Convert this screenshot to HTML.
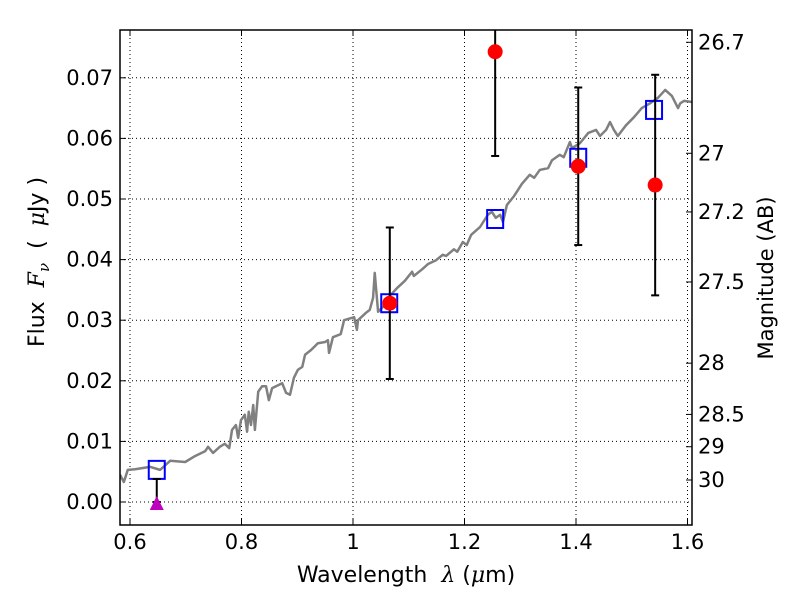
<!DOCTYPE html>
<html><head><meta charset="utf-8"><style>body{margin:0;background:#fff}svg{display:block;font-family:"DejaVu Sans","Liberation Sans",sans-serif}</style></head>
<body>
<svg id="c" width="800" height="600"></svg>
<script>
const specLam=[0.582,0.589,0.596,0.609,0.636,0.654,0.672,0.699,0.717,0.735,0.740,0.749,0.761,0.770,0.778,0.783,0.790,0.794,0.799,0.806,0.810,0.813,0.817,0.821,0.824,0.830,0.837,0.844,0.849,0.855,0.873,0.880,0.887,0.894,0.901,0.909,0.914,0.925,0.937,0.950,0.955,0.957,0.964,0.978,0.984,1.002,1.007,1.009,1.023,1.030,1.036,1.039,1.045,1.057,1.066,1.079,1.093,1.106,1.109,1.124,1.135,1.149,1.161,1.167,1.181,1.187,1.197,1.204,1.212,1.228,1.242,1.249,1.256,1.264,1.269,1.276,1.289,1.303,1.317,1.325,1.335,1.350,1.357,1.371,1.378,1.389,1.393,1.407,1.422,1.436,1.443,1.454,1.461,1.468,1.475,1.490,1.504,1.518,1.533,1.547,1.560,1.572,1.583,1.587,1.594,1.608];
const specFlux=[0.0045,0.0033,0.0053,0.0054,0.0058,0.0053,0.0068,0.0066,0.0076,0.0084,0.0091,0.0081,0.0091,0.0096,0.0089,0.0119,0.0127,0.0106,0.0135,0.0144,0.0116,0.0149,0.0127,0.0160,0.0119,0.0182,0.0191,0.0191,0.0168,0.0188,0.0196,0.0180,0.0177,0.0205,0.0218,0.0223,0.0243,0.0251,0.0262,0.0264,0.0267,0.0246,0.0272,0.0277,0.0300,0.0305,0.0284,0.0300,0.0312,0.0317,0.0337,0.0378,0.0314,0.0325,0.0340,0.0353,0.0365,0.0380,0.0373,0.0384,0.0393,0.0399,0.0408,0.0406,0.0417,0.0413,0.0429,0.0424,0.0441,0.0454,0.0474,0.0479,0.0469,0.0474,0.0462,0.0490,0.0505,0.0525,0.0540,0.0535,0.0548,0.0551,0.0564,0.0573,0.0569,0.0594,0.0584,0.0592,0.0609,0.0614,0.0604,0.0614,0.0627,0.0614,0.0604,0.0622,0.0635,0.0650,0.0658,0.0667,0.0680,0.0670,0.0650,0.0658,0.0662,0.0660];
const modelLam=[0.648,1.065,1.255,1.404,1.540];
const modelFlux=[0.0053,0.0328,0.0467,0.0568,0.0647];
const obsLam=[1.066,1.255,1.404,1.542];
const obsFlux=[0.0328,0.0743,0.0554,0.0523];
const obsErr=[0.0125,0.0172,0.013,0.0182];
const limLam=[0.648];
const limFlux=[0.0];
const limErr=[0.0038];
const xTicks=[0.6,0.8,1.0,1.2,1.4,1.6];
const xTickLabels=["0.6","0.8","1","1.2","1.4","1.6"];
const yTicks=[0,0.01,0.02,0.03,0.04,0.05,0.06,0.07];
const yTickLabels=["0.00","0.01","0.02","0.03","0.04","0.05","0.06","0.07"];
const magTicks=[26.7,27,27.2,27.5,28,28.5,29,30];
const magTickLabels=["26.7","27","27.2","27.5","28","28.5","29","30"];

const L=120,R=692,T=30,B=525;
const x=v=>130+(v-0.6)*557.5;
const y=v=>502-v*6060;
const svg=document.getElementById('c');
const NS='http://www.w3.org/2000/svg';
function mk(tag,at,parent){const e=document.createElementNS(NS,tag);for(const k in at)e.setAttribute(k,at[k]);(parent||svg).appendChild(e);return e;}
const defs=mk('defs',{});
const cp=mk('clipPath',{id:'clip'},defs);mk('rect',{x:L,y:T,width:R-L,height:B-T},cp);

xTicks.forEach((t,i)=>{const g=mk('line',{x1:x(t),x2:x(t),y1:T,y2:B,stroke:'#000','stroke-width':1,'stroke-dasharray':'1,3'});

const tk=mk('line',{x1:x(t),x2:x(t),y1:B,y2:B-6,stroke:'#000'});
const tk2=mk('line',{x1:x(t),x2:x(t),y1:T,y2:T+6,stroke:'#000'});
const lb=mk('text',{x:x(t),y:B+24,'font-size':21,'text-anchor':'middle'});lb.textContent=xTickLabels[i];
});
yTicks.forEach((t,i)=>{const g=mk('line',{x1:L,x2:R,y1:y(t),y2:y(t),stroke:'#000','stroke-width':1,'stroke-dasharray':'1,3'});

const tk=mk('line',{x1:L,x2:L+6,y1:y(t),y2:y(t),stroke:'#000'});
const lb=mk('text',{x:L-7,y:y(t)+7,'font-size':21,'text-anchor':'end'});lb.textContent=yTickLabels[i];
});
magTicks.forEach((m,i)=>{const f=Math.pow(10,-(m-23.9)/2.5);const yy=y(f);
const tk=mk('line',{x1:R,x2:R-6,y1:yy,y2:yy,stroke:'#000'});
const lb=mk('text',{x:R+6,y:yy+7,'font-size':21});lb.textContent=magTickLabels[i];
});

const plot=mk('g',{'clip-path':'url(#clip)'});

const sp=mk('polyline',{points:specLam.map((l,i)=>x(l)+','+y(specFlux[i])).join(' '),fill:'none',stroke:'#808080','stroke-width':2.5,'stroke-linejoin':'round'},plot);

modelLam.forEach((l,i)=>{const r=mk('rect',{x:x(l)-8,y:y(modelFlux[i])-9,width:16,height:18,fill:'none',stroke:'#0000ff','stroke-width':2},plot);
});
obsLam.forEach((l,i)=>{const cx=x(l),y1=y(obsFlux[i]+obsErr[i]),y2=y(obsFlux[i]-obsErr[i]);
const g=mk('g',{},plot);
mk('line',{x1:cx,x2:cx,y1:y1,y2:y2,stroke:'#000','stroke-width':2},g);
mk('line',{x1:cx-4,x2:cx+4,y1:y1,y2:y1,stroke:'#000','stroke-width':2},g);
mk('line',{x1:cx-4,x2:cx+4,y1:y2,y2:y2,stroke:'#000','stroke-width':2},g);
const c=mk('circle',{cx:cx,cy:y(obsFlux[i]),r:7.5,fill:'#ff0000'},plot);
});
limLam.forEach((l,i)=>{const cx=x(l),y1=y(limFlux[i]+limErr[i]),y0=y(limFlux[i]);
const g=mk('g',{},plot);
mk('line',{x1:cx,x2:cx,y1:y1,y2:y0,stroke:'#000','stroke-width':2},g);
mk('line',{x1:cx-4,x2:cx+4,y1:y1,y2:y1,stroke:'#000','stroke-width':2},g);
mk('line',{x1:cx-4,x2:cx+4,y1:y0,y2:y0,stroke:'#000','stroke-width':2},g);
const p=mk('polygon',{points:`${cx-7},${y0+8} ${cx+7},${y0+8} ${cx},${y0-6}`,fill:'#bf00bf'},plot);
});

const fr=mk('rect',{x:L,y:T,width:R-L,height:B-T,fill:'none',stroke:'#000','stroke-width':1.5});

</script>
<div style="position:absolute;left:0;top:0;width:800px;height:600px;pointer-events:none">
<svg width="800" height="600" style="font-family:'DejaVu Sans','Liberation Sans',sans-serif">
<text x="406" y="582" font-size="22" text-anchor="middle" xml:space="preserve">Wavelength  <tspan font-family="DejaVu Serif" font-style="italic">λ</tspan> (<tspan font-family="DejaVu Serif" font-style="italic">μ</tspan>m)</text>
<text transform="translate(44,262) rotate(-90)" font-size="22" text-anchor="middle" xml:space="preserve">Flux  <tspan font-family="DejaVu Serif" font-style="italic">F</tspan><tspan font-family="DejaVu Serif" font-style="italic" font-size="15" dy="5">ν</tspan><tspan dy="-5">  (  </tspan><tspan font-family="DejaVu Serif" font-style="italic">μ</tspan>Jy )</text>
<text transform="translate(773,278) rotate(-90)" font-size="21" text-anchor="middle">Magnitude (AB)</text>
</svg></div>
</body></html>
